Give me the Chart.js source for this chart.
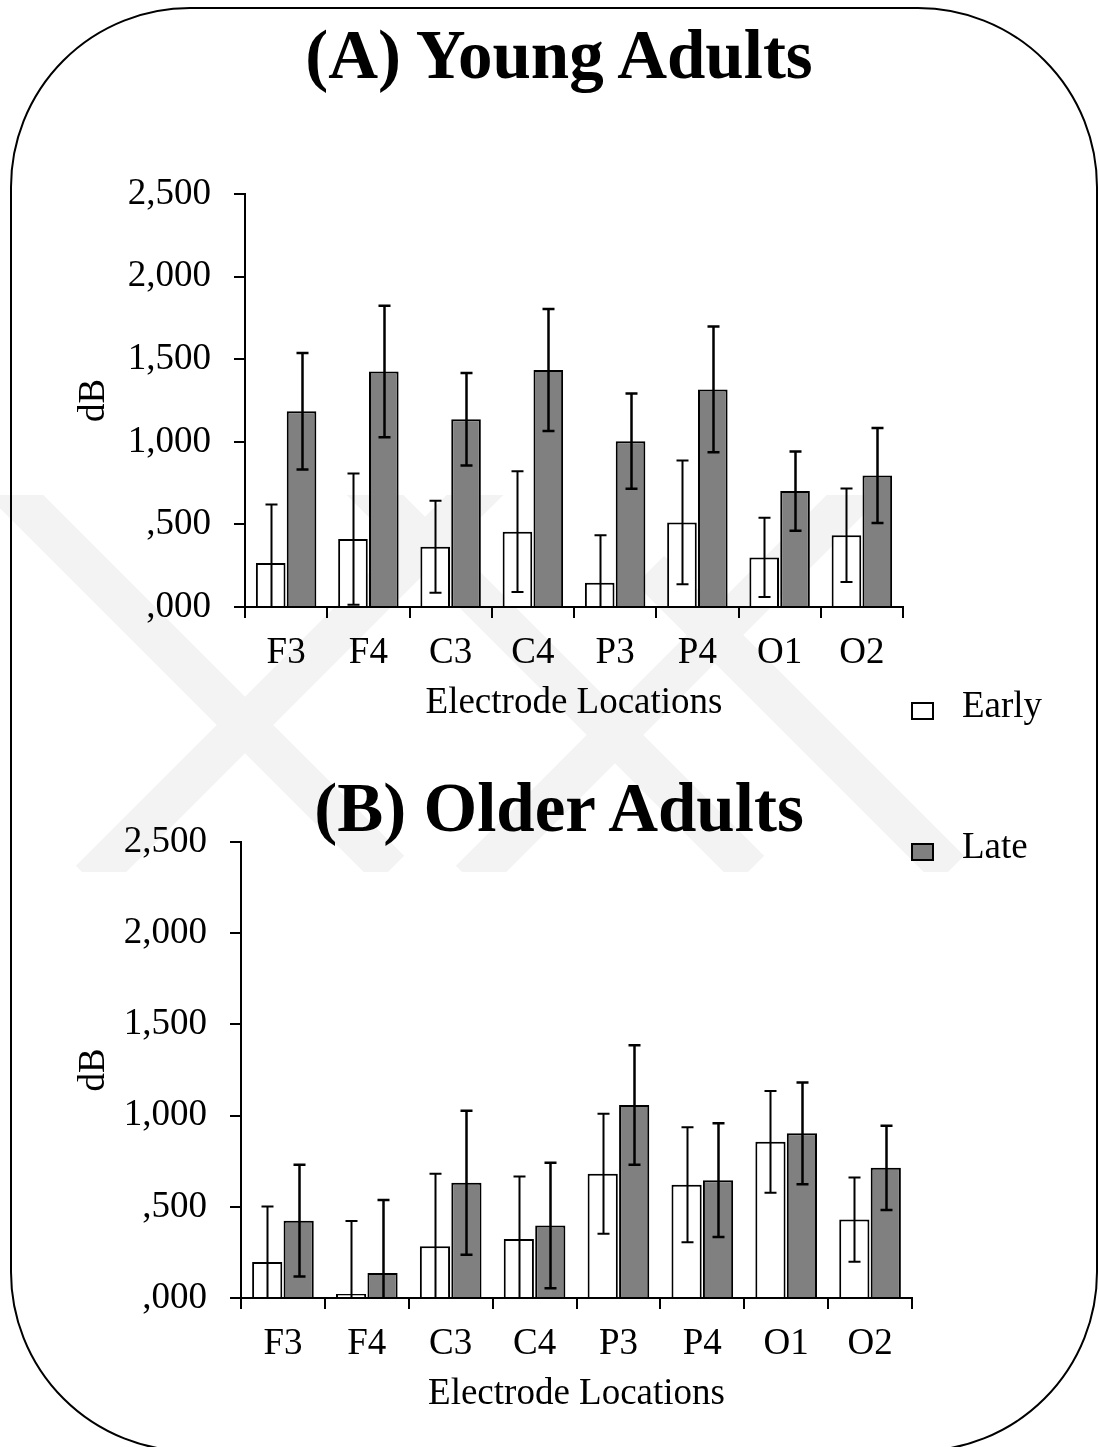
<!DOCTYPE html>
<html>
<head>
<meta charset="utf-8">
<script src="https://cdn.jsdelivr.net/npm/chart.js@4.4.0/dist/chart.umd.min.js"></script>
<style>
  html, body { margin: 0; padding: 0; background: #fff; }
  #page { position: relative; width: 1099px; height: 1447px; overflow: hidden; background: #fff;
          font-family: 'Liberation Serif', 'Times New Roman', serif; color: #000; }
  #frame { position: absolute; left: 10px; top: 7px; width: 1088px; height: 1445px;
           border: 2px solid #000; border-radius: 180px; box-sizing: border-box; }
  .title { position: absolute; left: 0; width: 1118px; text-align: center; font-size: 69px;
           font-weight: bold; line-height: 69px; white-space: nowrap; }
  .leg { position: absolute; left: 911px; font-size: 37px; line-height: 37px; }
  .leg .box { position: absolute; left: 0; width: 23px; height: 18px; border: 2px solid #000; box-sizing: border-box; }
  .leg .txt { position: absolute; left: 51px; top: 0; white-space: nowrap; }
  canvas { position: absolute; left: 0; }
  #wm { position: absolute; left: 0; top: 0; }
</style>
</head>
<body>
<div id="page">
  <svg id="wm" width="1099" height="1447">
    <defs><clipPath id="wmclip"><rect x="0" y="495" width="1099" height="377"/></clipPath></defs>
    <g clip-path="url(#wmclip)" stroke="#f3f3f3" stroke-width="40" fill="none">
      <line x1="0" y1="480" x2="390" y2="870"/>
      <line x1="90" y1="880" x2="490" y2="480"/>
      <line x1="360" y1="480" x2="750" y2="870"/>
      <line x1="470" y1="880" x2="870" y2="480"/>
      <line x1="650" y1="570" x2="950" y2="870"/>
    </g>
  </svg>
  <div id="frame"></div>
  <canvas id="chartA" width="1099" height="740" style="top:0px"></canvas>
  <canvas id="chartB" width="1099" height="671" style="top:760px"></canvas>
  <div class="title" style="top:21px">(A) Young Adults</div>
  <div class="title" style="top:774px">(B) Older Adults</div>
  <div class="leg" style="top:686px"><div class="box" style="top:16px;background:#fff"></div><div class="txt">Early</div></div>
  <div class="leg" style="top:827px"><div class="box" style="top:16px;background:#808080"></div><div class="txt">Late</div></div>
</div>
<script>
const categories = ['F3', 'F4', 'C3', 'C4', 'P3', 'P4', 'O1', 'O2'];
const yTickLabels = [',000', ',500', '1,000', '1,500', '2,000', '2,500'];

// (A) young adults - means and error (+/-)
const youngEarly    = [0.266, 0.411, 0.365, 0.456, 0.147, 0.512, 0.300, 0.435];
const youngEarlyErr = [0.355, 0.397, 0.278, 0.365, 0.288, 0.375, 0.240, 0.283];
const youngLate     = [1.185, 1.425, 1.137, 1.435, 1.004, 1.317, 0.702, 0.796];
const youngLateErr  = [0.353, 0.398, 0.280, 0.369, 0.288, 0.381, 0.240, 0.287];

// (B) older adults
const olderEarly    = [0.197, 0.022, 0.284, 0.324, 0.681, 0.621, 0.856, 0.430];
const olderEarlyErr = [0.304, 0.400, 0.397, 0.342, 0.329, 0.315, 0.279, 0.231];
const olderLate     = [0.424, 0.137, 0.632, 0.397, 1.058, 0.646, 0.903, 0.714];
const olderLateErr  = [0.306, 0.400, 0.395, 0.344, 0.328, 0.312, 0.279, 0.231];

Chart.defaults.font.family = "'Liberation Serif', 'Times New Roman', serif";
Chart.defaults.color = '#000';

// error bars drawn from the y scale
const errorBars = {
  id: 'errorBars',
  afterDatasetsDraw(chart) {
    const ctx = chart.ctx;
    const y = chart.scales.y;
    const area = chart.chartArea;
    ctx.save();
    chart.data.datasets.forEach((ds, di) => {
      const meta = chart.getDatasetMeta(di);
      ctx.strokeStyle = '#000';
      ctx.lineWidth = ds.errWidth;
      meta.data.forEach((bar, i) => {
        const v = ds.data[i], e = ds.errors[i];
        const top = y.getPixelForValue(v + e);
        const bot = y.getPixelForValue(Math.max(v - e, 0));
        const x = Math.round(bar.x) + 0.5;
        ctx.beginPath();
        ctx.moveTo(x, top); ctx.lineTo(x, bot);
        ctx.moveTo(x - 6, top); ctx.lineTo(x + 6, top);
        if (v - e > 0) { ctx.moveTo(x - 6, bot); ctx.lineTo(x + 6, bot); }
        ctx.stroke();
      });
    });
    ctx.restore();
  }
};

function makeChart(id, early, earlyErr, late, lateErr, box) {
  return new Chart(document.getElementById(id), {
    type: 'bar',
    data: {
      labels: categories,
      datasets: [
        { label: 'Early', data: early, errors: earlyErr, errWidth: 2,
          backgroundColor: '#ffffff', borderColor: '#000', borderWidth: 2 },
        { label: 'Late', data: late, errors: lateErr, errWidth: 2.5,
          backgroundColor: '#808080', borderColor: '#000', borderWidth: 2 }
      ]
    },
    options: {
      responsive: false,
      animation: false,
      categoryPercentage: 0.75,
      barPercentage: 0.96,
      layout: { padding: { top: box.top, right: box.right, left: 0, bottom: 0 } },
      plugins: { legend: { display: false }, tooltip: { enabled: false } },
      scales: {
        x: {
          afterFit(scale) { scale.height = 133; },
          grid: { offset: true, drawOnChartArea: false, tickLength: 11, color: '#000', lineWidth: 2 },
          border: { color: '#000', width: 2 },
          ticks: { font: { size: 37 }, padding: 13, maxRotation: 0 },
          title: { display: true, text: 'Electrode Locations', font: { size: 37 }, padding: { bottom: 15 } }
        },
        y: {
          min: 0, max: 2.5,
          afterFit(scale) { scale.width = box.left; },
          grid: { drawOnChartArea: false, tickLength: 11, color: '#000', lineWidth: 2 },
          border: { color: '#000', width: 2 },
          ticks: { stepSize: 0.5, font: { size: 37 }, padding: 23,
                   callback: (v, i) => yTickLabels[i] },
          title: { display: true, text: 'dB', font: { size: 37 }, padding: { top: 72 } }
        }
      }
    },
    plugins: [errorBars]
  });
}

makeChart('chartA', youngEarly, youngEarlyErr, youngLate, youngLateErr, { top: 194, right: 196, left: 245 });
makeChart('chartB', olderEarly, olderEarlyErr, olderLate, olderLateErr, { top: 82, right: 187, left: 241 });
</script>
</body>
</html>
